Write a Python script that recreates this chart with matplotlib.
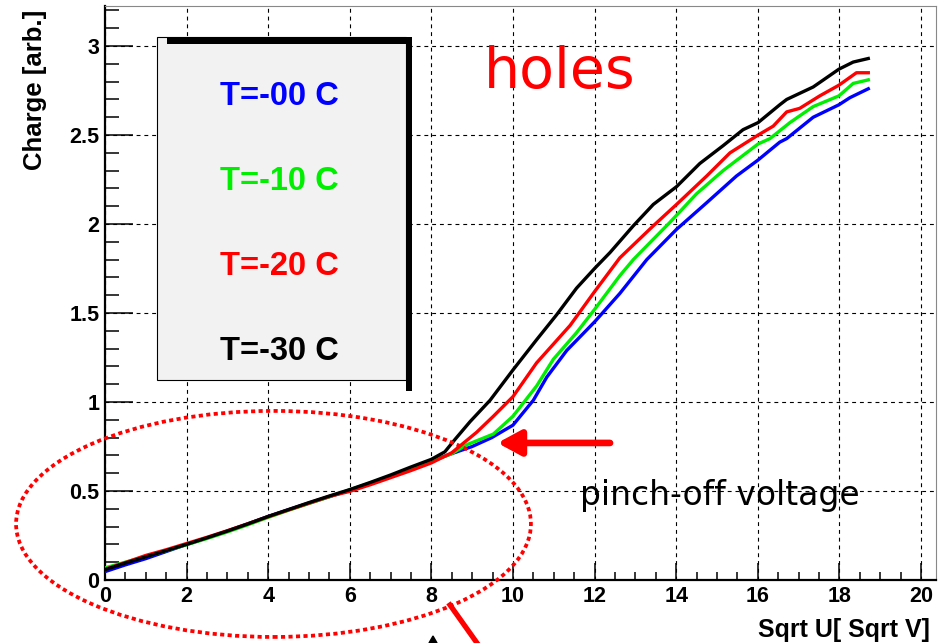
import numpy as np
import matplotlib
matplotlib.use("Agg")
import matplotlib.pyplot as plt
from matplotlib.patches import Rectangle, Ellipse, Polygon
from matplotlib.lines import Line2D
from matplotlib.ticker import MultipleLocator

x_low = [0, 0.5, 1, 1.5, 2, 2.5, 3, 3.5, 4, 4.5, 5, 5.5, 6, 6.5, 7, 7.5, 8]

x_t00 = x_low + [8.5, 9, 9.48, 10, 10.5, 10.83, 11.32, 12, 12.62, 13.28, 14.01,
                 14.75, 15.48, 16.01, 16.54, 16.71, 17.36, 17.99, 18.26, 18.71]
q_t00 = [0.047, 0.085, 0.12, 0.16, 0.2, 0.237, 0.275, 0.315, 0.357, 0.395, 0.432,
         0.468, 0.505, 0.54, 0.582, 0.625, 0.668,
         0.71, 0.75, 0.80, 0.87, 1.01, 1.14, 1.29, 1.45, 1.61, 1.80, 1.97,
         2.12, 2.27, 2.36, 2.46, 2.48, 2.60, 2.67, 2.71, 2.76]

x_t10 = x_low + [8.5, 8.87, 9.52, 10, 10.58, 10.99, 11.56, 12, 12.62, 12.95, 13.85,
                 14.5, 15.15, 16.01, 16.3, 16.79, 17.36, 17.99, 18.34, 18.71]
q_t10 = [0.068, 0.1, 0.132, 0.165, 0.198, 0.233, 0.27, 0.31, 0.352, 0.392, 0.43,
         0.468, 0.507, 0.545, 0.585, 0.625, 0.665,
         0.71, 0.76, 0.82, 0.92, 1.09, 1.24, 1.39, 1.52, 1.71, 1.80, 2.01,
         2.17, 2.30, 2.45, 2.48, 2.57, 2.66, 2.72, 2.79, 2.81]

x_t20 = x_low + [8.5, 9.11, 9.52, 10, 10.58, 11.4, 12, 12.62, 13.44, 14.01, 14.75,
                 15.32, 16.01, 16.38, 16.71, 17.03, 17.52, 17.99, 18.42, 18.71]
q_t20 = [0.06, 0.098, 0.138, 0.17, 0.205, 0.24, 0.277, 0.316, 0.356, 0.394, 0.432,
         0.47, 0.498, 0.535, 0.575, 0.615, 0.658,
         0.715, 0.83, 0.92, 1.03, 1.22, 1.43, 1.62, 1.81, 1.99, 2.11, 2.27,
         2.40, 2.50, 2.55, 2.63, 2.65, 2.72, 2.78, 2.85, 2.85]

x_t30 = x_low + [8.33, 8.58, 8.95, 9.44, 10, 10.58, 11.07, 11.56, 12, 12.38, 12.95,
                 13.44, 14.01, 14.58, 15.15, 15.64, 16.01, 16.54, 16.71, 17.36,
                 17.99, 18.34, 18.71]
q_t30 = [0.058, 0.095, 0.13, 0.165, 0.2, 0.237, 0.275, 0.315, 0.357, 0.396, 0.435,
         0.472, 0.508, 0.548, 0.59, 0.635, 0.678,
         0.72, 0.79, 0.89, 1.01, 1.18, 1.35, 1.49, 1.64, 1.75, 1.84, 1.99,
         2.11, 2.21, 2.34, 2.44, 2.53, 2.57, 2.67, 2.70, 2.77, 2.87, 2.91, 2.93]

labels = ["T=-00 C", "T=-10 C", "T=-20 C", "T=-30 C"]
colors = ["#0000ff", "#00ee00", "#ff0000", "#000000"]

W, H = 944, 643
fig = plt.figure(figsize=(W/100, H/100), dpi=100)
ax = fig.add_axes([105/W, 1-580/H, 831/W, 574/H])

bold = dict(family=["Liberation Sans", "DejaVu Sans"], weight="bold")

for xs, qs, c in zip([x_t00, x_t10, x_t20, x_t30], [q_t00, q_t10, q_t20, q_t30], colors):
    ax.plot(xs, qs, color=c, lw=2.4, zorder=3)

ax.set_xlim(0, 20.37)
ax.set_ylim(0, 3.225)
ax.xaxis.set_major_locator(MultipleLocator(2))
ax.xaxis.set_minor_locator(MultipleLocator(0.5))
ax.yaxis.set_major_locator(MultipleLocator(0.5))
ax.yaxis.set_minor_locator(MultipleLocator(0.1))
ax.yaxis.set_major_formatter(plt.FuncFormatter(lambda v, p: "%g" % v))
ax.tick_params(which="both", direction="in", top=False, right=False, width=1.1, colors="black")
ax.tick_params(axis="x", which="major", length=12, pad=4)
ax.tick_params(axis="x", which="minor", length=6)
ax.tick_params(axis="y", which="major", length=20, pad=4)
ax.tick_params(axis="y", which="minor", length=10)
for lab in ax.get_xticklabels() + ax.get_yticklabels():
    lab.set_fontproperties(matplotlib.font_manager.FontProperties(**bold, size=15.5))

ax.grid(True, which="major", color="black", lw=0.8, linestyle=(0, (3.5, 3.5)), zorder=1)
ax.set_axisbelow(True)

for s in ["left", "bottom"]:
    ax.spines[s].set_linewidth(1.6)
for s in ["top", "right"]:
    ax.spines[s].set_linewidth(0.8)
    ax.spines[s].set_color("#888888")

ax.set_xlabel("Sqrt U[ Sqrt V]", fontsize=18, loc="right", **bold)
ax.xaxis.set_label_coords(0.993, -0.066)
ax.set_ylabel("Charge [arb.]", fontsize=18.5, loc="top", **bold)
ax.yaxis.set_label_coords(-0.070, 0.994)

# legend pave with its shadow
ax.add_patch(Rectangle((0.0626, 0.3484), 0.2996, 0.5976, transform=ax.transAxes,
                       facecolor="#f2f2f2", edgecolor="black", lw=0.8, zorder=5))
ax.add_patch(Rectangle((0.0746, 0.934), 0.2948, 0.012, transform=ax.transAxes,
                       facecolor="black", edgecolor="none", zorder=6))
ax.add_patch(Rectangle((0.3622, 0.3293), 0.0072, 0.6167, transform=ax.transAxes,
                       facecolor="black", edgecolor="none", zorder=6))
for lab, c, yy in zip(labels, colors, [0.842, 0.694, 0.546, 0.398]):
    ax.text(0.2094, yy, lab, color=c, fontsize=23.5, ha="center", va="center",
            transform=ax.transAxes, zorder=7, **bold)

ax.text(0.547, 0.857, "holes", color="red", fontsize=41, ha="center", va="baseline",
        transform=ax.transAxes, family="DejaVu Sans")
ax.text(0.740, 0.131, "pinch-off voltage", color="black", fontsize=23.7, ha="center",
        va="baseline", transform=ax.transAxes, family="DejaVu Sans")

ax.annotate("", xy=(9.62, 0.77), xytext=(12.38, 0.77),
            arrowprops=dict(arrowstyle="-|>,head_length=0.7,head_width=0.38", color="red",
                            lw=4.8, mutation_scale=20, shrinkA=0, shrinkB=0), zorder=8)

ax.add_patch(Ellipse((4.13, 0.315), 12.62, 1.27, fill=False, edgecolor="red", lw=2.7,
                     linestyle=(0, (1.1, 0.9)), clip_on=False, zorder=9))

# pieces of other annotations cut off at the bottom edge
fig.add_artist(Line2D([450/W, 482/W], [1-605/H, 1-650/H], color="red", lw=3.8,
                      transform=fig.transFigure))
fig.add_artist(Polygon([[429/W, 0], [437/W, 0], [433/W, 1-636/H]], closed=True,
                       color="black", transform=fig.transFigure))

fig.savefig("out.png", dpi=100)
